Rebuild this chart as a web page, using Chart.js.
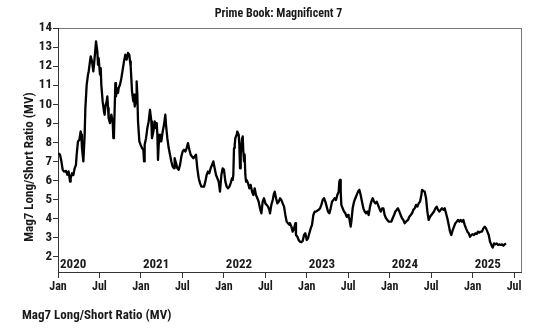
<!DOCTYPE html>
<html>
<head>
<meta charset="utf-8">
<script src="https://cdn.jsdelivr.net/npm/chart.js@4.4.1/dist/chart.umd.min.js"></script>
<style>
    html, body { margin: 0; padding: 0; background: #fff; }
    #wrap { position: relative; width: 544px; height: 331px; }
    #foot {
        position: absolute; left: 22px; top: 307px; line-height: 16px;
        font: bold 13px 'Liberation Sans Narrow', 'Roboto Condensed', 'DejaVu Sans Condensed', sans-serif;
        color: #1a1a1a; white-space: nowrap;
    }
</style>
</head>
<body>
<div id="wrap">
    <canvas id="chart" width="544" height="331"></canvas>
    <div id="foot">Mag7 Long/Short Ratio (MV)</div>
</div>
<script>
const FONT = "'Liberation Sans Narrow', 'Roboto Condensed', 'DejaVu Sans Condensed', sans-serif";

/* months since Jan 2020 */
const months = [
    0.1,0.29,0.48,0.68,0.87,1.16,1.35,1.54,1.74,1.83,
    2.03,2.22,2.41,2.6,2.7,2.89,3.09,3.28,3.38,3.47,
    3.67,3.86,3.96,4.15,4.34,4.44,4.63,4.73,4.92,5.11,
    5.21,5.4,5.5,5.69,5.79,5.88,6.08,6.18,6.27,6.46,
    6.66,6.75,6.85,7.04,7.14,7.24,7.33,7.53,7.72,7.91,
    8.01,8.1,
    8.3,8.39,8.49,8.68,8.78,8.97,9.17,9.36,9.55,9.74,
    9.94,10.13,10.32,10.42,10.52,10.61,10.71,10.9,11.0,11.1,
    11.29,11.38,11.48,11.58,11.77,11.96,12.16,12.35,12.45,12.54,
    12.74,12.93,13.12,13.31,13.51,13.6,13.8,13.99,14.18,14.28,
    14.38,14.47,14.57,14.76,14.95,15.15,15.34,15.53,15.63,15.82,
    16.02,16.21,16.4,16.59,16.79,
    16.88,17.08,17.27,17.46,17.66,17.85,18.04,18.23,18.43,18.62,
    18.81,19.01,19.2,19.39,19.59,19.78,19.97,20.16,20.36,20.55,
    20.74,20.94,21.13,21.32,21.51,21.71,21.9,22.09,22.29,22.48,
    22.67,22.87,23.06,23.25,23.44,23.64,23.83,24.02,24.22,24.41,
    24.6,24.8,24.99,25.18,
    25.28,25.37,25.47,25.57,25.66,25.86,25.95,26.15,26.24,26.34,
    26.44,26.63,26.73,26.82,26.92,27.01,27.11,27.21,27.3,27.5,
    27.69,27.88,28.08,28.27,28.46,28.65,28.85,29.04,29.23,29.43,
    29.62,29.81,30.01,30.2,30.39,30.58,30.68,30.87,31.07,31.26,
    31.36,31.55,31.74,31.94,32.13,32.32,32.51,32.71,32.9,33.09,
    33.29,33.48,
    33.57,33.77,33.96,34.15,34.35,34.44,34.64,34.83,35.02,35.21,
    35.41,35.6,35.79,35.99,36.18,36.37,36.57,36.76,36.95,37.14,
    37.34,37.53,37.72,37.92,38.11,38.3,38.49,38.69,38.88,39.07,
    39.27,39.46,39.65,39.85,40.04,40.23,40.42,40.62,40.71,40.81,
    40.91,41.0,41.2,41.39,41.58,41.78,41.97,
    42.06,42.16,42.35,42.45,42.64,42.84,43.03,43.22,43.42,43.61,
    43.8,43.99,44.19,44.38,44.57,44.77,44.96,45.15,45.34,45.54,
    45.73,45.92,46.12,46.31,46.5,46.7,46.89,47.08,47.27,47.47,
    47.66,47.85,48.05,48.24,48.43,48.63,48.82,49.01,49.2,49.4,
    49.59,49.78,49.98,50.17,50.36,
    50.46,50.65,50.84,51.04,51.23,51.42,51.62,51.81,52.0,52.2,
    52.39,52.58,52.68,52.87,53.06,53.26,53.45,53.64,53.84,54.03,
    54.22,54.41,54.61,54.8,54.99,55.19,55.38,55.57,55.76,55.96,
    56.15,56.34,56.54,56.73,56.92,57.12,57.31,57.5,57.7,57.89,
    58.08,58.27,58.47,58.66,
    58.85,59.04,59.24,59.43,59.62,59.82,60.01,60.2,60.4,60.59,
    60.78,60.97,61.17,61.36,61.55,61.75,61.94,62.13,62.33,62.52,
    62.71,62.9,63.1,63.29,63.48,63.68,63.87,64.06,64.25,64.45,
    64.64,64.83
];

/* Mag7 long/short ratio (MV) */
const ratio = [
    7.43,7.35,7.03,6.56,6.47,6.5,6.3,6.47,5.94,6.12,
    6.38,6.29,6.64,6.82,7.35,8.05,8.13,8.57,8.4,7.7,
    7.0,8.4,9.8,11.02,11.55,11.72,12.25,12.51,12.25,11.72,
    12.07,12.86,13.3,12.77,12.07,12.42,11.55,11.9,11.02,10.15,
    9.62,9.45,9.88,10.15,10.41,9.8,9.27,9.01,9.45,9.1,
    8.22,8.4,
    11.11,10.41,10.85,10.59,10.85,11.02,11.37,11.81,12.25,12.6,
    12.34,12.69,12.6,12.25,11.99,11.37,10.67,10.15,10.5,9.88,
    10.24,11.2,10.5,9.1,8.05,7.87,7.7,7.61,7.0,7.87,
    8.22,8.75,9.1,9.71,9.1,8.22,8.57,9.1,8.75,9.01,
    8.4,7.08,7.87,8.4,8.05,8.57,8.92,9.45,8.92,8.22,
    7.7,7.35,7.0,6.73,6.64,
    7.17,6.91,6.64,6.56,6.82,7.26,7.52,7.61,7.52,7.7,
    7.96,7.61,7.35,7.26,7.17,7.26,7.35,6.64,6.12,5.86,
    5.68,5.68,5.68,5.94,6.29,6.47,6.38,6.64,6.82,7.0,
    6.64,6.29,6.12,5.94,5.42,6.29,6.64,6.56,5.94,5.68,
    5.59,5.68,5.86,6.12,
    6.03,6.29,7.7,7.87,8.22,8.4,8.57,8.4,7.87,6.64,
    7.35,8.22,8.31,7.52,7.0,7.35,6.29,5.94,6.03,5.86,
    5.59,5.77,5.42,5.24,5.59,5.24,5.07,4.89,4.54,4.28,
    4.89,5.07,4.8,4.72,4.63,4.46,4.28,4.72,4.98,5.33,
    5.42,5.07,4.8,4.89,5.07,4.98,4.8,4.63,4.19,3.84,
    3.76,3.67,
    3.76,3.58,3.32,3.49,3.76,3.14,3.05,2.88,2.79,2.76,
    2.83,3.14,3.23,2.88,2.97,3.23,3.49,3.67,4.19,4.37,
    4.37,4.42,4.46,4.54,4.72,4.98,5.07,4.89,4.63,4.37,
    4.28,4.54,4.89,4.98,5.07,4.98,5.24,5.42,5.94,6.03,
    5.42,4.72,4.54,4.37,4.28,4.1,4.19,
    4.06,4.02,3.58,3.84,4.54,4.89,5.07,5.24,5.42,5.51,
    5.24,4.89,4.54,4.37,4.28,4.37,4.19,4.63,4.89,5.07,
    4.89,4.8,4.89,4.72,4.54,4.37,4.54,4.54,4.19,4.02,
    3.93,3.84,3.84,3.84,4.02,4.19,4.37,4.46,4.54,4.37,
    4.19,4.02,3.93,3.76,3.84,
    3.84,3.93,4.1,4.19,4.28,4.46,4.54,4.72,4.63,4.8,
    4.89,5.24,5.51,5.45,5.42,5.07,4.37,3.93,4.1,4.19,
    4.28,4.37,4.54,4.63,4.46,4.37,4.46,4.54,4.46,4.54,
    4.28,4.02,3.67,3.32,3.14,3.4,3.58,3.76,3.84,3.93,
    3.84,3.93,3.84,3.93,
    3.67,3.49,3.32,3.23,3.05,3.14,3.18,3.14,3.23,3.2,
    3.32,3.27,3.32,3.32,3.49,3.58,3.49,3.32,3.14,2.79,
    2.62,2.48,2.7,2.65,2.7,2.62,2.65,2.62,2.65,2.58,
    2.65,2.7
];

/* ticks */
const xTicks = [0, 6, 12, 18, 24, 30, 36, 42, 48, 54, 60, 66];
const xTickLabels = ['Jan','Jul','Jan','Jul','Jan','Jul','Jan','Jul','Jan','Jul','Jan','Jul'];
const yTicks = [2, 3, 4, 5, 6, 7, 8, 9, 10, 11, 12, 13, 14];
const yearStarts = [0, 12, 24, 36, 48, 60];
const yearLabels = ['2020', '2021', '2022', '2023', '2024', '2025'];

const chartTitle = 'Prime Book: Magnificent 7';
const yTitle = 'Mag7 Long/Short Ratio (MV)';
const ink = '#1a1a1a';

/* frame, year labels, y title */
const extras = {
    id: 'extras',
    beforeDraw(chart) {
        const {ctx, chartArea: a} = chart;
        ctx.save();
        ctx.strokeStyle = '#777';
        ctx.lineWidth = 1;
        ctx.strokeRect(a.left + 0.5, a.top + 0.5, a.right - a.left, a.bottom - a.top);
        ctx.restore();
    },
    afterDraw(chart) {
        const {ctx, chartArea: a, scales: {x}} = chart;
        ctx.save();
        ctx.fillStyle = ink;
        ctx.font = 'bold 13px ' + FONT;
        ctx.textAlign = 'left';
        ctx.textBaseline = 'middle';
        yearLabels.forEach((t, i) => {
            ctx.fillText(t, x.getPixelForValue(yearStarts[i]) + 2, a.bottom - 7.5);
        });
        ctx.translate(30, a.bottom - 105);
        ctx.rotate(-Math.PI / 2);
        ctx.textAlign = 'center';
        ctx.fillText(yTitle, 0, 0);
        ctx.restore();
    }
};

new Chart(document.getElementById('chart'), {
    type: 'line',
    data: {
        datasets: [{
            data: months.map((m, i) => ({x: m, y: ratio[i]})),
            borderColor: '#000', borderWidth: 2.3, borderJoinStyle: 'round',
            pointRadius: 0, tension: 0, fill: false
        }]
    },
    options: {
        responsive: false, animation: false,
        layout: {padding: {left: 36, right: 23, top: 0, bottom: 35}},
        plugins: {
            legend: {display: false},
            tooltip: {enabled: false},
            title: {
                display: true, text: chartTitle, color: ink,
                font: {family: FONT, size: 12, weight: 'bold'},
                padding: {top: 6.6, bottom: 7}
            }
        },
        scales: {
            x: {
                type: 'linear', min: 0, max: 67,
                afterBuildTicks: s => { s.ticks = xTicks.map(v => ({value: v})); },
                afterFit: s => { s.height = 24; },
                grid: {drawOnChartArea: false, drawTicks: true, tickLength: 6, color: '#333'},
                border: {color: '#333', width: 1},
                ticks: {
                    autoSkip: false, maxRotation: 0, padding: 2, color: ink,
                    font: {family: FONT, size: 12, weight: 'bold'},
                    callback: (v, i) => xTickLabels[i]
                }
            },
            y: {
                min: 1.2, max: 14,
                afterBuildTicks: s => { s.ticks = yTicks.map(v => ({value: v})); },
                afterFit: s => { s.width = 22; },
                grid: {drawOnChartArea: false, drawTicks: true, tickLength: 5, color: '#333'},
                border: {color: '#333', width: 1},
                ticks: {
                    autoSkip: false, padding: 1, color: ink,
                    font: {family: FONT, size: 13, weight: 'bold'}
                }
            }
        }
    },
    plugins: [extras]
});
</script>
</body>
</html>
